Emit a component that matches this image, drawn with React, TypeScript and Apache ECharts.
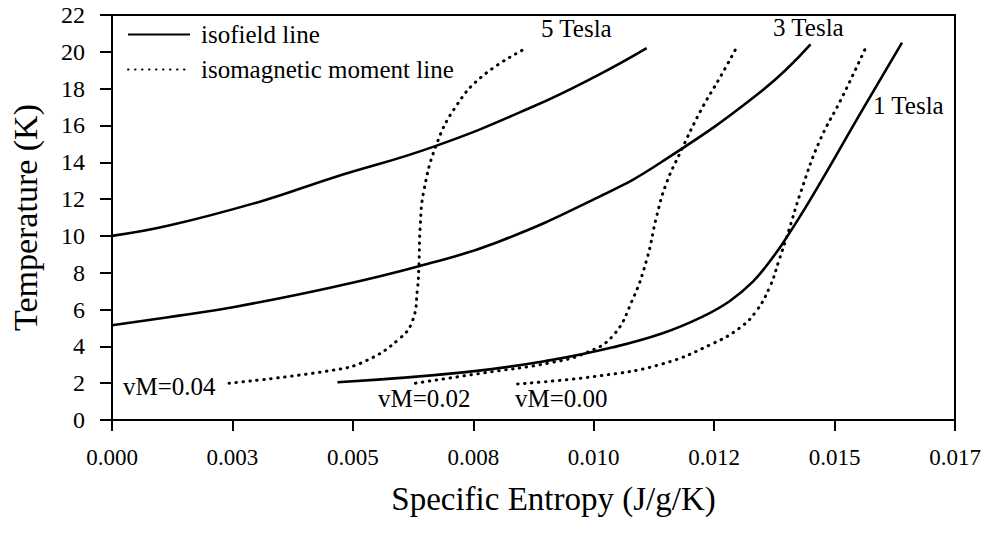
import React, { useEffect, useRef } from "react";
import * as echarts from "echarts";

// Entropy axis: ticks every 0.0025 J/g/K, labelled to three decimals as printed
const X_STEP = 0.0025;
const X_MAX = 0.0175;
const xTickLabels = ["0.000", "0.003", "0.005", "0.008", "0.010", "0.012", "0.015", "0.017"];

// Temperature axis (K)
const Y_MAX = 22;
const Y_STEP = 2;

// Isofield lines: [specific entropy (J/g/K), temperature (K)]
const isofield5T: [number, number][] = [
  [0, 10.0], [0.00118, 10.56], [0.00312, 11.9], [0.00457, 13.15], [0.00668, 14.85],
  [0.00872, 17.0], [0.0101, 18.75], [0.0111, 20.2],
];
const isofield3T: [number, number][] = [
  [0, 5.15], [0.00139, 5.67], [0.00254, 6.14], [0.00455, 7.2], [0.00635, 8.34],
  [0.008, 9.66], [0.01017, 12.2], [0.0114, 14.0], [0.0135, 17.9], [0.0145, 20.4],
];
const isofield1T: [number, number][] = [
  [0.00468, 2.05], [0.00734, 2.6], [0.00908, 3.24], [0.0104, 3.95], [0.01143, 4.71],
  [0.01225, 5.6], [0.01282, 6.45], [0.0133, 7.5], [0.01365, 8.6], [0.01395, 9.7],
  [0.01448, 11.9], [0.01559, 16.9], [0.0164, 20.5],
];

// Isomagnetic moment lines
const moment004: [number, number][] = [
  [0.00243, 2.0], [0.00457, 2.7], [0.00526, 3.2], [0.00596, 4.4], [0.00624, 5.4],
  [0.00634, 7.1], [0.00637, 8.3], [0.0064, 10.6], [0.00647, 12.4], [0.00672, 14.85],
  [0.00712, 16.96], [0.0077, 18.7], [0.0086, 20.2],
];
const moment002: [number, number][] = [
  [0.0063, 2.0], [0.00769, 2.55], [0.00908, 3.1], [0.00984, 3.65], [0.0104, 4.58],
  [0.0108, 6.5], [0.0111, 8.7], [0.0113, 11.0], [0.0115, 12.8], [0.0118, 14.55],
  [0.01222, 16.8], [0.01262, 18.6], [0.01298, 20.3],
];
const moment000: [number, number][] = [
  [0.00842, 1.96], [0.01012, 2.4], [0.01143, 3.05], [0.01247, 4.15], [0.01303, 5.0],
  [0.01337, 5.9], [0.01365, 7.2], [0.01385, 8.7], [0.01405, 10.3], [0.0143, 12.4],
  [0.01468, 15.1], [0.01517, 17.6], [0.01566, 20.3],
];

const SOLID_NAME = "isofield line";
const DOTTED_NAME = "isomagnetic moment line";

const FONT = "'Liberation Serif', 'Times New Roman', serif";
const INK = "#000";

export default function App() {
  const ref = useRef<HTMLDivElement>(null);

  useEffect(() => {
    if (!ref.current) return;
    const chart = echarts.init(ref.current, null, { renderer: "svg" });

    const solid = (data: [number, number][]) => ({
      name: SOLID_NAME,
      type: "line",
      data,
      smooth: 0.45,
      symbol: "none",
      lineStyle: { color: INK, width: 2.6, type: "solid" },
      itemStyle: { color: INK },
    });
    const dotted = (data: [number, number][]) => ({
      name: DOTTED_NAME,
      type: "line",
      data,
      smooth: 0.45,
      symbol: "none",
      lineStyle: { color: INK, width: 3, type: [0.5, 6.5], cap: "round" },
      itemStyle: { color: INK },
    });

    const label = (text: string, x: number, y: number) => ({
      type: "text",
      x,
      y,
      style: {
        text,
        fill: INK,
        font: `25px ${FONT}`,
        textAlign: "left",
        textVerticalAlign: "middle",
      },
    });

    chart.setOption({
      animation: false,
      backgroundColor: "#fff",
      textStyle: { fontFamily: FONT, color: INK },
      grid: {
        left: 107,
        right: 32,
        top: 15,
        bottom: 124,
        show: true,
        borderColor: INK,
        borderWidth: 2,
        backgroundColor: "transparent",
      },
      legend: {
        left: 122,
        top: 17,
        orient: "vertical",
        itemWidth: 62,
        itemHeight: 14,
        itemGap: 10,
        data: [SOLID_NAME, DOTTED_NAME],
        itemStyle: { opacity: 0 },
        textStyle: { fontFamily: FONT, fontSize: 25, color: INK, padding: [0, 0, 0, 6] },
        selectedMode: false,
      },
      xAxis: {
        type: "value",
        min: 0,
        max: X_MAX,
        interval: X_STEP,
        name: "Specific Entropy (J/g/K)",
        nameLocation: "middle",
        nameGap: 62,
        nameTextStyle: { fontFamily: FONT, fontSize: 33, color: INK, padding: [0, 0, 0, 40] },
        axisLine: { show: true, lineStyle: { color: INK, width: 2 } },
        axisTick: { show: true, inside: false, length: 11, lineStyle: { color: INK, width: 2 } },
        axisLabel: {
          margin: 26,
          fontFamily: FONT,
          fontSize: 23,
          color: INK,
          formatter: (v: number) => xTickLabels[Math.round(v / X_STEP)] ?? "",
        },
        splitLine: { show: false },
      },
      yAxis: {
        type: "value",
        min: 0,
        max: Y_MAX,
        interval: Y_STEP,
        name: "Temperature (K)",
        nameLocation: "middle",
        nameGap: 70,
        nameRotate: 90,
        nameTextStyle: { fontFamily: FONT, fontSize: 34, color: INK },
        axisLine: { show: true, lineStyle: { color: INK, width: 2 } },
        axisTick: { show: true, inside: false, length: 12, lineStyle: { color: INK, width: 2 } },
        axisLabel: { margin: 27, fontFamily: FONT, fontSize: 24, color: INK },
        splitLine: { show: false },
      },
      series: [
        solid(isofield5T),
        solid(isofield3T),
        solid(isofield1T),
        dotted(moment004),
        dotted(moment002),
        dotted(moment000),
      ],
      graphic: [
        label("5 Tesla", 541, 28),
        label("3 Tesla", 773, 27),
        label("1 Tesla", 873, 105),
        label("vM=0.04", 123, 386),
        label("vM=0.02", 378, 398),
        label("vM=0.00", 515, 398),
      ],
    });

    return () => chart.dispose();
  }, []);

  return (
    <div
      ref={ref}
      style={{ position: "fixed", left: 0, top: 0, width: 987, height: 544, background: "#fff" }}
    />
  );
}
